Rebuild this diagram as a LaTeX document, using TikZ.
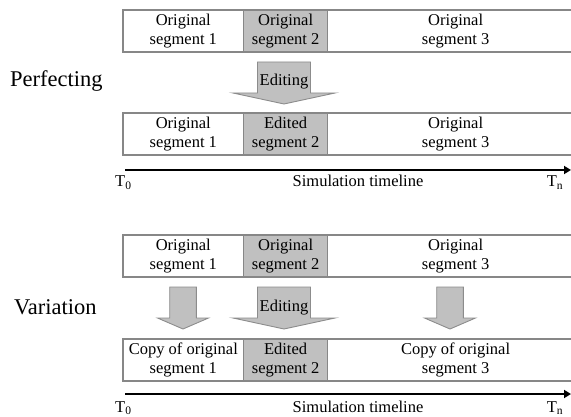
\documentclass[tikz,border=0pt]{standalone}
\usepackage{fontspec}
\setmainfont{Liberation Serif}
\usepackage{xcolor}
\usepackage{tikz}
\usetikzlibrary{chains,positioning,arrows.meta}
\definecolor{segline}{RGB}{135,135,135}
\definecolor{segfill}{RGB}{192,192,192}
\definecolor{arrowline}{RGB}{140,140,140}

\begin{document}
\begin{tikzpicture}[
    x=1pt,y=-1pt,node distance=0pt,
    start chain=pa going right,start chain=pb going right,
    start chain=va going right,start chain=vb going right,
    seg/.style={draw=segline,line width=1.1pt,minimum height=42pt,inner sep=0pt,outer sep=0pt,
      align=center,font=\fontsize{16.5}{19.5}\selectfont},
    timetext/.style={inner sep=0pt,font=\fontsize{16.5}{19.5}\selectfont},
    modetext/.style={inner sep=0pt,anchor=base west,font=\fontsize{22.5}{27}\selectfont},
    blockarrow/.style={fill=segfill,draw=arrowline,line width=0.9pt},
    timeline/.style={line width=2.8pt,-{Triangle[length=7pt,width=8pt]}}
  ]
  \useasboundingbox (0,0) rectangle (571,417);

  % Perfecting
  \node [modetext] (perf) at (10,87) {Perfecting};
  \node [seg,on chain=pa,anchor=north west,minimum width=120.6pt] (pa1) at (123,10) {Original\\segment 1};
  \node [seg,on chain=pa,fill=segfill,minimum width=84pt] (pa2) {Original\\segment 2};
  \node [seg,on chain=pa,minimum width=256pt] (pa3) {Original\\segment 3};
  \node [seg,on chain=pb,anchor=north west,minimum width=120.6pt] (pb1) at (123,113) {Original\\segment 1};
  \node [seg,on chain=pb,fill=segfill,minimum width=84pt] (pb2) {Edited\\segment 2};
  \node [seg,on chain=pb,minimum width=256pt] (pb3) {Original\\segment 3};

  % Variation
  \node [modetext] (vari) at (14,314) {Variation};
  \node [seg,on chain=va,anchor=north west,minimum width=120.6pt] (va1) at (123,235) {Original\\segment 1};
  \node [seg,on chain=va,fill=segfill,minimum width=84pt] (va2) {Original\\segment 2};
  \node [seg,on chain=va,minimum width=256pt] (va3) {Original\\segment 3};
  \node [seg,on chain=vb,anchor=north west,minimum width=120.6pt] (vb1) at (123,339) {Copy of original\\segment 1};
  \node [seg,on chain=vb,fill=segfill,minimum width=84pt] (vb2) {Edited\\segment 2};
  \node [seg,on chain=vb,minimum width=256pt] (vb3) {Copy of original\\segment 3};

  % block arrows
  \foreach \cx/\sw/\hw/\ytop in {284/26.5/51/62,183/13.3/25.5/287,284/26.5/51/287,450/13.3/25.5/287} {
    \draw [blockarrow] (\cx-\sw,\ytop) -- (\cx+\sw,\ytop) -- (\cx+\sw,\ytop+31) -- (\cx+\hw,\ytop+31)
      -- (\cx,\ytop+42) -- (\cx-\hw,\ytop+31) -- (\cx-\sw,\ytop+31) -- cycle;
  }
  \node [timetext,anchor=base] (edita) at (284,86) {Editing};
  \node [timetext,anchor=base] (editb) at (284,311) {Editing};

  % timelines
  \coordinate (t0a) at (125,170);
  \coordinate (tna) at (571,170);
  \draw [timeline] (t0a) -- (tna);
  \node [timetext,anchor=base west] (t0alab) at (115,187) {T\textsubscript{0}};
  \node [timetext,anchor=base] (simalab) at (358,187) {Simulation timeline};
  \node [timetext,anchor=base] (tnalab) at (555,187) {T\textsubscript{n}};

  \coordinate (t0b) at (125,394);
  \coordinate (tnb) at (571,394);
  \draw [timeline] (t0b) -- (tnb);
  \node [timetext,anchor=base west] (t0blab) at (115,412) {T\textsubscript{0}};
  \node [timetext,anchor=base] (simblab) at (358,412) {Simulation timeline};
  \node [timetext,anchor=base] (tnblab) at (555,412) {T\textsubscript{n}};
\end{tikzpicture}
\end{document}
